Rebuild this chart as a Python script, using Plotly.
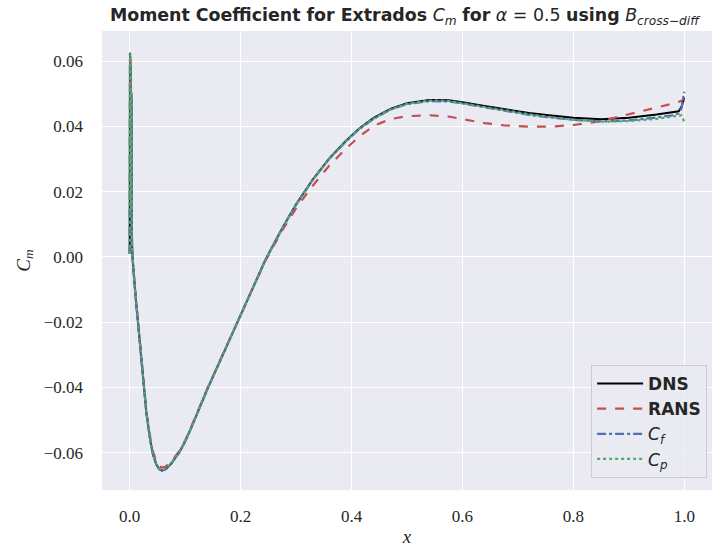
import plotly.graph_objects as go

x = [0, 0.0005, 0.001, 0.0015, 0.002, 0.003, 0.004, 0.005, 0.01, 0.015, 0.02, 0.025, 0.03,
     0.037, 0.042, 0.048, 0.053, 0.058, 0.065, 0.075, 0.09, 0.1, 0.11, 0.14, 0.17, 0.194,
     0.22, 0.245, 0.275, 0.3, 0.33, 0.36, 0.39, 0.415, 0.44, 0.47, 0.5, 0.54, 0.575, 0.6,
     0.64, 0.675, 0.72, 0.76, 0.8, 0.85, 0.9, 0.95, 0.98, 0.99, 0.995, 1.0]

dns = [0.001, 0.0625, 0.02, 0.058, 0.015, 0.05, 0.005, 0.0, -0.011, -0.0205, -0.0305, -0.040,
       -0.0478, -0.0562, -0.0605, -0.0636, -0.065, -0.0655, -0.065, -0.0633, -0.0597, -0.0565,
       -0.0527, -0.0405, -0.029, -0.020, -0.0101, -0.0008, 0.0088, 0.0161, 0.0237, 0.0302,
       0.0356, 0.0395, 0.0426, 0.0453, 0.0471, 0.0481, 0.048, 0.0474, 0.0462, 0.0452, 0.0441,
       0.0433, 0.0426, 0.0422, 0.0426, 0.0436, 0.0442, 0.0446, 0.046, 0.0487]

rans = [0.001, 0.061, 0.022, 0.056, 0.017, 0.048, 0.006, 0.0, -0.0108, -0.0202, -0.0301,
        -0.0395, -0.0472, -0.0553, -0.0596, -0.0627, -0.0641, -0.0645, -0.0642, -0.0627,
        -0.0593, -0.0562, -0.0524, -0.0403, -0.0289, -0.0201, -0.0103, -0.0011, 0.0081,
        0.0149, 0.0218, 0.028, 0.0332, 0.037, 0.0402, 0.0422, 0.0431, 0.0434, 0.043, 0.0422,
        0.041, 0.0403, 0.0399, 0.0399, 0.0404, 0.0416, 0.0436, 0.0458, 0.047, 0.0475, 0.0478,
        0.0485]

cf = [0.001, 0.0622, 0.021, 0.057, 0.016, 0.049, 0.005, 0.0, -0.011, -0.0205, -0.0305, -0.040,
      -0.0478, -0.0562, -0.0605, -0.0636, -0.065, -0.0654, -0.0649, -0.0632, -0.0597, -0.0565,
      -0.0527, -0.0405, -0.029, -0.020, -0.0101, -0.0008, 0.0088, 0.016, 0.0236, 0.0301,
      0.0354, 0.0393, 0.0423, 0.0451, 0.0468, 0.0477, 0.0476, 0.047, 0.0458, 0.0447, 0.0435,
      0.0427, 0.042, 0.0415, 0.0418, 0.0427, 0.0434, 0.044, 0.0455, 0.0506]

cp = [0.001, 0.0623, 0.019, 0.059, 0.014, 0.051, 0.004, 0.0, -0.011, -0.0205, -0.0305, -0.040,
      -0.0478, -0.0562, -0.0605, -0.0636, -0.065, -0.0654, -0.0649, -0.0632, -0.0597, -0.0565,
      -0.0527, -0.0405, -0.029, -0.020, -0.0101, -0.0008, 0.0088, 0.016, 0.0236, 0.0301,
      0.0355, 0.0394, 0.0424, 0.0452, 0.0469, 0.0479, 0.0478, 0.0471, 0.046, 0.0449, 0.0437,
      0.0428, 0.042, 0.0414, 0.0416, 0.0423, 0.0429, 0.0433, 0.0434, 0.0414]

xticks = [0.0, 0.2, 0.4, 0.6, 0.8, 1.0]
yticks = [-0.06, -0.04, -0.02, 0.0, 0.02, 0.04, 0.06]

def fmt(v, d):
    s = f"{v:.{d}f}"
    return s.replace("-", "\u2212")

fig = go.Figure()
fig.add_trace(go.Scatter(x=x, y=dns, mode="lines", name="<b>DNS</b>",
                         line=dict(color="#000000", width=2)))
fig.add_trace(go.Scatter(x=x, y=rans, mode="lines", name="<b>RANS</b>",
                         line=dict(color="#c44e52", width=2.2, dash="dash")))
fig.add_trace(go.Scatter(x=x, y=cf, mode="lines", name="<i>C<sub>f</sub></i>",
                         line=dict(color="#4c72b0", width=2.2, dash="dashdot")))
fig.add_trace(go.Scatter(x=x, y=cp, mode="lines", name="<i>C<sub>p</sub></i>",
                         line=dict(color="#55a868", width=2.2, dash="dot")))

serif = "Liberation Serif, DejaVu Serif, serif"
fig.update_layout(
    width=712, height=552,
    margin=dict(l=102, r=0, t=31, b=62),
    paper_bgcolor="white", plot_bgcolor="#eaeaf2",
    title=dict(text="<b>Moment Coefficient for Extrados</b> <i>C<sub>m</sub></i> <b>for</b> <i>α</i> = 0.5 <b>using</b> <i>B<sub>cross−diff</sub></i>",
               x=0.568, xanchor="center", y=0.973, yanchor="middle",
               font=dict(family="DejaVu Sans, sans-serif", size=17.4, color="#262626")),
    xaxis=dict(range=[-0.05, 1.05], tickvals=xticks, ticktext=[fmt(v, 1) for v in xticks],
               showgrid=True, gridcolor="white", gridwidth=1.3, zeroline=False, showline=False,
               ticks="", ticklabelstandoff=14, tickfont=dict(family=serif, size=17, color="#262626"),
               title=dict(text="<i>x</i>", font=dict(family=serif, size=19, color="#262626"), standoff=4)),
    yaxis=dict(range=[-0.0714, 0.0692], tickvals=yticks, ticktext=[fmt(v, 2) for v in yticks],
               showgrid=True, gridcolor="white", gridwidth=1.3, zeroline=False, showline=False,
               ticks="", ticklabelstandoff=18, tickfont=dict(family=serif, size=17, color="#262626"),
               title=dict(text="<i>C<sub>m</sub></i>", font=dict(family=serif, size=19, color="#262626"), standoff=8)),
    legend=dict(x=0.992, y=0.026, xanchor="right", yanchor="bottom",
                bgcolor="rgba(234,234,242,0.8)", bordercolor="#cccccc", borderwidth=1,
                font=dict(family="DejaVu Sans, sans-serif", size=17, color="#262626"),
                itemwidth=46, tracegroupgap=2),
    showlegend=True,
)

fig.write_html("out.html")
